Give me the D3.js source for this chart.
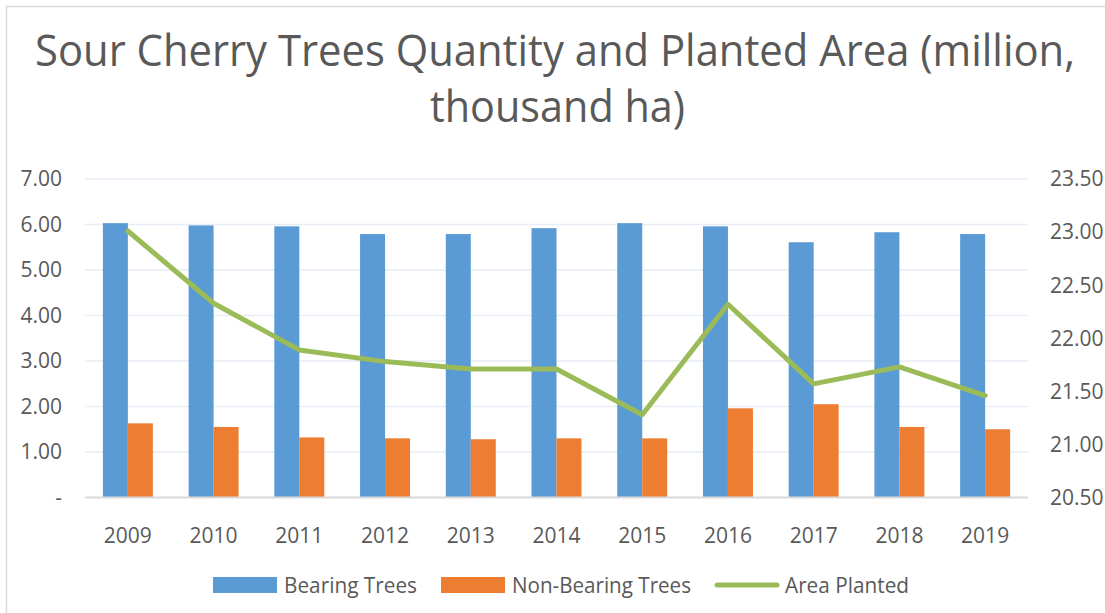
<!DOCTYPE html>
<html>
<head>
<meta charset="utf-8">
<script src="https://cdn.jsdelivr.net/npm/d3@7"></script>
<style>
  body { margin: 0; background: #fff; }
  text { font-family: "Open Sans", sans-serif; fill: #595959; }
</style>
</head>
<body>
<div id="chart"></div>
<script>
// données
const years = ["2009", "2010", "2011", "2012", "2013", "2014", "2015", "2016", "2017", "2018", "2019"];
const bearing = [6.03, 5.98, 5.96, 5.79, 5.79, 5.92, 6.03, 5.96, 5.61, 5.83, 5.79];
const nonBearing = [1.63, 1.55, 1.32, 1.30, 1.28, 1.30, 1.30, 1.96, 2.05, 1.55, 1.50];
const areaPlanted = [23.01, 22.33, 21.89, 21.78, 21.71, 21.71, 21.28, 22.32, 21.57, 21.73, 21.46];
const leftTicks = [0, 1, 2, 3, 4, 5, 6, 7];
const rightTicks = [20.5, 21, 21.5, 22, 22.5, 23, 23.5];

const W = 1105, H = 613;
const colors = { bearing: "#5B9BD5", nonBearing: "#ED7D31", area: "#9BBB59" };

const svg = d3.select("#chart").append("svg").attr("width", W).attr("height", H);

// cadre du graphique
svg.append("rect")
  .attr("x", 6.5).attr("y", 6.5)
  .attr("width", W + 20).attr("height", H + 20)
  .attr("fill", "none").attr("stroke", "#d9d9d9").attr("stroke-width", 1.5);

// titre (police étroite simulée avec textLength)
function fitText(sel, len) {
  sel.attr("textLength", len).attr("lengthAdjust", "spacingAndGlyphs");
}
svg.append("text").attr("x", 35).attr("y", 66)
  .style("font-size", "43px")
  .text("Sour Cherry Trees Quantity and Planted Area (million,")
  .call(fitText, 1040);
svg.append("text").attr("x", 430).attr("y", 122)
  .style("font-size", "43px")
  .text("thousand ha)")
  .call(fitText, 255);

// échelles
const x = d3.scaleBand().domain(years).range([85, 1028])
  .paddingInner(0.417).paddingOuter(0.2085);
const xSub = d3.scaleBand().domain(["bearing", "nonBearing"]).range([0, x.bandwidth()]);
const yL = d3.scaleLinear().domain([0, 7]).range([497.5, 179]);
const yR = d3.scaleLinear().domain([20.5, 23.5]).range([497.5, 179]);

// lignes de grille
svg.append("g").selectAll("line")
  .data(leftTicks.filter((d) => d > 0))
  .enter().append("line")
  .attr("x1", 85).attr("x2", 1028)
  .attr("y1", (d) => yL(d)).attr("y2", (d) => yL(d))
  .attr("stroke", "#e6edf6").attr("stroke-width", 1.5);

// barres
const groups = svg.append("g").selectAll("g")
  .data(years)
  .enter().append("g")
  .attr("transform", (d) => `translate(${x(d)},0)`);

groups.append("rect")
  .attr("x", xSub("bearing"))
  .attr("width", xSub.bandwidth())
  .attr("y", (d, i) => yL(bearing[i]))
  .attr("height", (d, i) => yL(0) - yL(bearing[i]))
  .attr("fill", colors.bearing);

groups.append("rect")
  .attr("x", xSub("nonBearing"))
  .attr("width", xSub.bandwidth())
  .attr("y", (d, i) => yL(nonBearing[i]))
  .attr("height", (d, i) => yL(0) - yL(nonBearing[i]))
  .attr("fill", colors.nonBearing);

// axe horizontal
svg.append("line")
  .attr("x1", 85).attr("x2", 1028)
  .attr("y1", yL(0)).attr("y2", yL(0))
  .attr("stroke", "#d9d9d9").attr("stroke-width", 2);

// courbe surface plantée
const line = d3.line()
  .x((d, i) => x(years[i]) + x.bandwidth() / 2)
  .y((d) => yR(d));
svg.append("path")
  .datum(areaPlanted)
  .attr("d", line)
  .attr("fill", "none")
  .attr("stroke", colors.area)
  .attr("stroke-width", 5)
  .attr("stroke-linejoin", "round")
  .attr("stroke-linecap", "round");

// étiquettes des axes
svg.append("g").selectAll("text")
  .data(leftTicks)
  .enter().append("text")
  .attr("x", 62).attr("y", (d) => yL(d))
  .attr("dy", "0.35em")
  .attr("text-anchor", "end")
  .style("font-size", "21px")
  .text((d) => (d === 0 ? "-" : d.toFixed(2)));

svg.append("g").selectAll("text")
  .data(rightTicks)
  .enter().append("text")
  .attr("x", 1050).attr("y", (d) => yR(d))
  .attr("dy", "0.35em")
  .style("font-size", "21px")
  .text((d) => d.toFixed(2));

svg.append("g").selectAll("text")
  .data(years)
  .enter().append("text")
  .attr("x", (d) => x(d) + x.bandwidth() / 2)
  .attr("y", 543)
  .attr("text-anchor", "middle")
  .style("font-size", "21px")
  .text((d) => d);

// légende
const legend = [
  { label: "Bearing Trees", type: "rect", color: colors.bearing, x: 213, w: 133 },
  { label: "Non-Bearing Trees", type: "rect", color: colors.nonBearing, x: 441, w: 179 },
  { label: "Area Planted", type: "line", color: colors.area, x: 714, w: 124 },
];
const lg = svg.append("g").selectAll("g")
  .data(legend)
  .enter().append("g")
  .attr("transform", (d) => `translate(${d.x},585)`);

lg.filter((d) => d.type === "rect").append("rect")
  .attr("x", 0).attr("y", -8).attr("width", 64).attr("height", 16)
  .attr("fill", (d) => d.color);
lg.filter((d) => d.type === "line").append("line")
  .attr("x1", 3).attr("x2", 63).attr("y1", 0).attr("y2", 0)
  .attr("stroke", (d) => d.color).attr("stroke-width", 5)
  .attr("stroke-linecap", "round");

lg.append("text")
  .attr("x", 71).attr("y", 0).attr("dy", "0.36em")
  .style("font-size", "21px")
  .text((d) => d.label)
  .each(function (d) {
    d3.select(this).call(fitText, d.w);
  });
</script>
</body>
</html>
